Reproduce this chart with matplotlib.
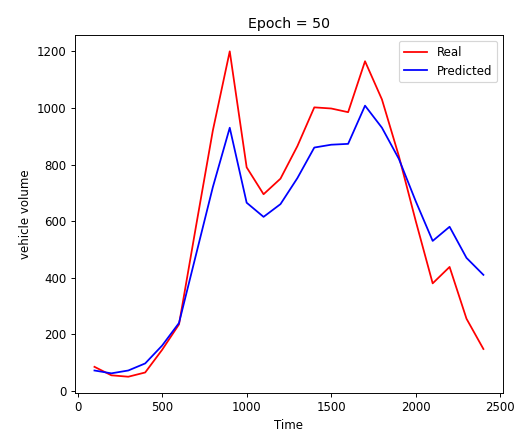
import matplotlib
matplotlib.use('Agg')
import matplotlib.pyplot as plt

time = [100, 200, 300, 400, 500, 600, 700, 800, 900, 1000, 1100, 1200,
        1300, 1400, 1500, 1600, 1700, 1800, 1900, 2000, 2100, 2200, 2300, 2400]
real = [85, 55, 50, 65, 145, 235, 580, 920, 1200, 790, 695, 750,
        865, 1002, 998, 985, 1165, 1030, 830, 600, 380, 438, 255, 148]
predicted = [72, 62, 72, 97, 160, 240, 480, 720, 930, 665, 615, 660,
             752, 860, 870, 873, 1008, 930, 820, 670, 530, 580, 470, 410]

dpi = 85
fig = plt.figure(figsize=(526 / dpi, 433 / dpi), dpi=dpi)
ax = fig.add_axes([0.1426, 0.0924, 0.8134, 0.8266])
ax.plot(time, real, color='red', label='Real')
ax.plot(time, predicted, color='blue', label='Predicted')
ax.set_title('Epoch = 50')
ax.set_xlabel('Time')
ax.set_ylabel('vehicle volume')
ax.set_xticks([0, 500, 1000, 1500, 2000, 2500])
ax.legend(loc='upper right')
fig.savefig('out.png', dpi=dpi)
